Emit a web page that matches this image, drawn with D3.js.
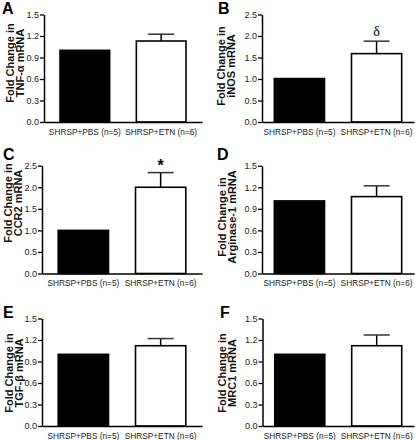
<!DOCTYPE html>
<html><head><meta charset="utf-8">
<script src="https://cdn.jsdelivr.net/npm/d3@7"></script>
<style>body{margin:0;background:#fff}svg{display:block}</style>
</head><body>
<svg id="chart" width="415" height="440"></svg>
<script>
const categories = ["SHRSP+PBS (n=5)", "SHRSP+ETN (n=6)"];
const panelLetters = ["A", "B", "C", "D", "E", "F"];
const genes = ["TNF-α", "iNOS", "CCR2", "Arginase-1", "TGF-β", "MRC1"];
const pbsValues = [1.0, 1.01, 1.0, 1.01, 1.0, 1.0];
const etnValues = [1.13, 1.59, 2.0, 1.07, 1.12, 1.12];
const etnErrors = [0.095, 0.29, 0.34, 0.15, 0.10, 0.15];
const yMax = [1.5, 2.5, 2.5, 1.5, 1.5, 1.5];
const tickLabels15 = [0, 0.3, 0.6, 0.9, 1.2, 1.5];
const tickLabels25 = [0, 0.5, 1.0, 1.5, 2.0, 2.5];
const sigMarks = ["", "δ", "*", "", "", ""];

const svg = d3.select("#chart");
const FONT = "Liberation Sans, Arial, sans-serif";
// layout (positions only)
const axisX = [44, 262, 42, 262, 42, 262.5];
const colEnd = [202, 414];
const outerPad = [0.2, 0.15];
const rowTop = [14.5, 165.7, 318.5];
const rowBottom = [122, 273.5, 426];
const titleX = [14, 225, 11.5, 225.5, 13, 226];
const titleY = [63, 66, 203, 217, 373, 373];
const letterPos = [[2, 14], [218, 14], [3, 160], [217, 160], [3, 318], [220, 318]];

panelLetters.forEach((letter, i) => {
  const col = i % 2, row = Math.floor(i / 2);
  const x0 = axisX[i], x1 = colEnd[col];
  const g = svg.append("g");
  const y = d3.scaleLinear().domain([0, yMax[i]]).range([rowBottom[row], rowTop[row]]);
  const x = d3.scaleBand().domain(categories).range([x0, x1]).paddingInner(0.33).paddingOuter(outerPad[col]);
  const ticks = yMax[i] === 1.5 ? tickLabels15 : tickLabels25;

  // bars
  const vals = [pbsValues[i], etnValues[i]];
  g.selectAll("rect.bar").data(categories).enter().append("rect")
    .attr("x", d => x(d) + 0.75)
    .attr("width", x.bandwidth() - 1.5)
    .attr("y", (d, k) => y(vals[k]))
    .attr("height", (d, k) => y(0) - y(vals[k]))
    .attr("fill", (d, k) => k === 0 ? "#000" : "#fff")
    .attr("stroke", "#000").attr("stroke-width", 1.6);

  // y axis
  const yAxis = g.append("g").attr("transform", `translate(${x0},0)`)
    .call(d3.axisLeft(y).tickValues(ticks).tickFormat(d3.format(".1f")).tickSize(4).tickSizeOuter(0));
  yAxis.select(".domain").attr("stroke", "#000").attr("stroke-width", 1.5);
  yAxis.selectAll(".tick line").attr("stroke", "#000").attr("stroke-width", 1.3);
  yAxis.selectAll(".tick text").attr("font-family", FONT)
    .attr("font-size", 9).attr("fill", "#222").attr("x", -5);

  // x axis
  const xAxis = g.append("g").attr("transform", `translate(0,${rowBottom[row]})`)
    .call(d3.axisBottom(x).tickSize(0).tickPadding(7));
  xAxis.select(".domain").attr("stroke", "#000").attr("stroke-width", 1.5);
  xAxis.selectAll(".tick text").attr("font-family", FONT)
    .attr("font-size", 8.3).attr("fill", "#222");

  // error bar for ETN
  const cx = x(categories[1]) + x.bandwidth() / 2;
  const top = y(etnValues[i] + etnErrors[i]);
  g.append("line").attr("x1", cx).attr("x2", cx).attr("y1", y(etnValues[i])).attr("y2", top)
    .attr("stroke", "#000").attr("stroke-width", 1.5);
  g.append("line").attr("x1", cx - 13).attr("x2", cx + 13).attr("y1", top).attr("y2", top)
    .attr("stroke", "#333").attr("stroke-width", 1.5);

  if (sigMarks[i]) {
    const star = sigMarks[i] === "*";
    g.append("text").attr("x", cx).attr("y", top - (star ? 2 : 5))
      .attr("text-anchor", "middle")
      .attr("font-family", star ? FONT : "Liberation Serif, Times New Roman, serif")
      .attr("font-size", star ? 16 : 14)
      .attr("font-weight", star ? "bold" : "normal")
      .text(sigMarks[i]);
  }

  // panel letter
  g.append("text").attr("x", letterPos[i][0]).attr("y", letterPos[i][1])
    .attr("font-family", FONT).attr("font-weight", "bold")
    .attr("font-size", 16).text(letter);

  // y title
  const t = g.append("text").attr("transform", `translate(${titleX[i]},${titleY[i]}) rotate(-90)`)
    .attr("text-anchor", "middle")
    .attr("font-family", FONT).attr("font-weight", "bold")
    .attr("font-size", 11).attr("fill", "#111");
  t.append("tspan").attr("x", 0).attr("dy", 0).text("Fold Change in");
  t.append("tspan").attr("x", 0).attr("dy", 10.3).text(genes[i] + " mRNA");
});
</script>
</body></html>
